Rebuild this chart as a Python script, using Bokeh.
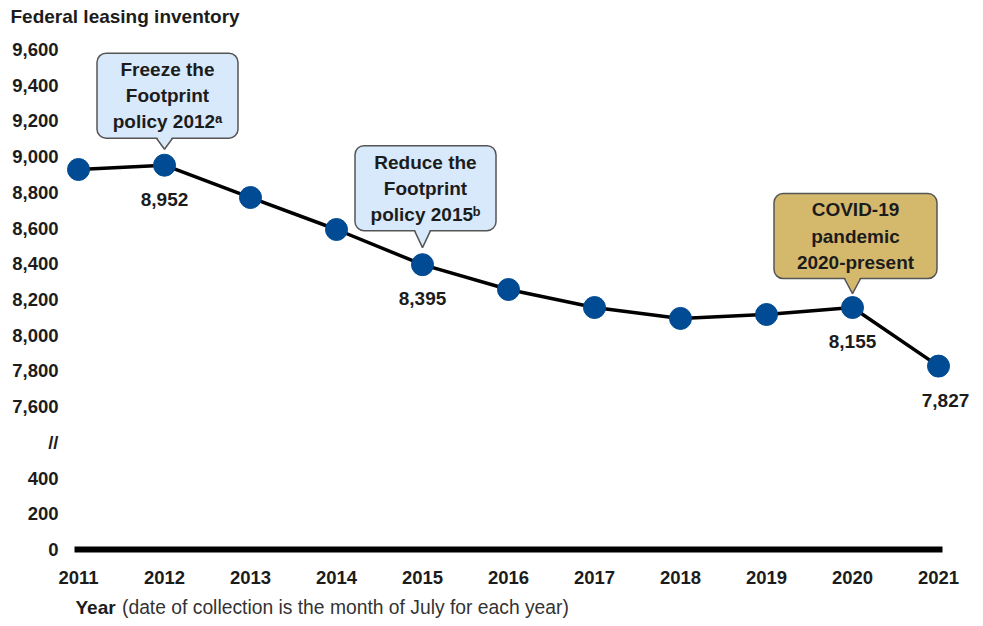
from bokeh.plotting import figure
from bokeh.models import FixedTicker, Range1d
from bokeh.core.properties import value
from bokeh.embed import file_html
from bokeh.resources import INLINE

# ---------------- data ----------------
years = [2011, 2012, 2013, 2014, 2015, 2016, 2017, 2018, 2019, 2020, 2021]
inventory = [8928, 8952, 8771, 8592, 8395, 8256, 8155, 8094, 8116, 8155, 7827]
labeled_years = [2012, 2015, 2020, 2021]
callout_years = [2012, 2015, 2020]
callout_texts = ["Freeze the\nFootprint\npolicy 2012\u1d43",
                 "Reduce the\nFootprint\npolicy 2015\u1d47",
                 "COVID-19\npandemic\n2020-present"]
callout_fills = ["#d7e9fa", "#d7e9fa", "#d4b96c"]
lower_ticks = [0, 200, 400]
upper_ticks = [7600, 7800, 8000, 8200, 8400, 8600, 8800, 9000, 9200, 9400, 9600]
break_label = "//"
title_text = "Federal leasing inventory"
xtitle_bold = "Year"
xtitle_rest = "(date of collection is the month of July for each year)"

# ---------------- broken axis mapping ----------------
STEP = 200
BREAK_POS = lower_ticks[-1] + STEP            # position of "//"
UPPER_BASE = BREAK_POS + STEP                 # where upper_ticks[0] is drawn


def to_plot(v):
    return v if v < upper_ticks[0] else v - upper_ticks[0] + UPPER_BASE


plot_y = [to_plot(v) for v in inventory]
tick_pos = [to_plot(v) for v in lower_ticks] + [BREAK_POS] + [to_plot(v) for v in upper_ticks]
tick_lab = [f"{v:,}" for v in lower_ticks] + [break_label] + [f"{v:,}" for v in upper_ticks]
overrides = {int(p): l for p, l in zip(tick_pos, tick_lab)}

# ---------------- layout (canvas pixels; frame fills the canvas) ----------------
W, H = 983, 626
X0_PX, X1_PX = 78, 938                      # first / last year centre
Y0_PX, YTOP_PX = 549, 49                    # plot 0 / top tick
ppx = (X1_PX - X0_PX) / (years[-1] - years[0])          # px per year
top_pos = tick_pos[-1]
ppy = (Y0_PX - YTOP_PX) / top_pos                       # px per y unit


def X(px):      # canvas px -> data x
    return years[0] + (px - X0_PX) / ppx


def Y(py):      # canvas px -> data y
    return (Y0_PX - py) * 1.0 / ppy


def dx(px):
    return px / ppx


def dy(px):
    return px / ppy


FONT = "Liberation Sans"
TXT = "#1c1c1c"

p = figure(width=W, height=H, min_border=0,
           x_range=Range1d(X(0), X(W)), y_range=Range1d(Y(H), Y(0)),
           output_backend="svg", toolbar_location=None, tools="")
p.outline_line_color = None
p.grid.grid_line_color = None
p.background_fill_color = "white"
p.border_fill_color = "white"

for ax in (p.xaxis[0], p.yaxis[0]):
    ax.axis_line_color = None
    ax.major_tick_line_color = None
    ax.minor_tick_line_color = None
    ax.major_tick_out = 0
    ax.major_tick_in = 0
    ax.major_label_text_font = FONT
    ax.major_label_text_font_style = "bold"
    ax.major_label_text_font_size = "18.5px"
    ax.major_label_text_color = TXT

p.xaxis[0].ticker = FixedTicker(ticks=years)
p.xaxis[0].fixed_location = Y(558)
p.xaxis[0].major_label_standoff = 12
p.yaxis[0].ticker = FixedTicker(ticks=tick_pos)
p.yaxis[0].major_label_overrides = overrides
p.yaxis[0].fixed_location = X(70)
p.yaxis[0].major_label_standoff = 12

# thick baseline
p.segment(x0=[years[0] - dx(4)], y0=[0], x1=[years[-1] + dx(4)], y1=[0],
          line_color="black", line_width=6, line_cap="butt")

# callouts (box geometry in screen px)
BOX_H, PTR_HW = 85, 8
box_w = {2012: 141, 2015: 141, 2020: 163}
box_lift = {2012: 27, 2015: 34, 2020: 29}     # point centre -> box bottom
tip_gap = {2012: 16, 2015: 17, 2020: 14}      # point centre -> pointer tip
for yr, txt, fill in zip(callout_years, callout_texts, callout_fills):
    i = years.index(yr)
    cx, cy = yr, plot_y[i]
    tip = cy + dy(tip_gap[yr])
    bottom = cy + dy(box_lift[yr])
    top = bottom + dy(BOX_H)
    bx = cx + dx(3)
    w = box_w[yr]
    p.quad(left=[bx - dx(w / 2)], right=[bx + dx(w / 2)], bottom=[bottom], top=[top],
           fill_color=fill, line_color="#555555", line_width=1.5, border_radius=9)
    p.patch(x=[cx - dx(PTR_HW), cx, cx + dx(PTR_HW)],
            y=[bottom + dy(2), tip, bottom + dy(2)],
            fill_color=fill, line_color=None)
    p.line(x=[cx - dx(PTR_HW), cx, cx + dx(PTR_HW)], y=[bottom, tip, bottom],
           line_color="#555555", line_width=1.5)
    p.text(x=[bx], y=[(bottom + top) / 2], text=[txt], text_font=value(FONT),
           text_font_style="bold", text_font_size="19px", text_color=TXT,
           text_align="center", text_baseline="middle", text_line_height=1.24)

# line + markers
p.line(years, plot_y, line_color="black", line_width=3.5)
p.scatter(years, plot_y, size=22, fill_color="#004b93", line_color="#004b93")

# value labels (last one sits a little to the right, as in the source)
for yr in labeled_years:
    i = years.index(yr)
    shift = dx(7) if yr == years[-1] else 0
    p.text(x=[yr + shift], y=[plot_y[i] - dy(34)], text=[f"{inventory[i]:,}"],
           text_font=value(FONT), text_font_style="bold", text_font_size="19px",
           text_color=TXT, text_align="center", text_baseline="middle")

# chart title and x-axis title
p.text(x=[X(10)], y=[Y(16)], text=[title_text], text_font=value(FONT),
       text_font_style="bold", text_font_size="19px", text_color=TXT,
       text_align="left", text_baseline="middle")
p.text(x=[X(75)], y=[Y(607)], text=[xtitle_bold], text_font=value(FONT),
       text_font_style="bold", text_font_size="19px", text_color=TXT,
       text_align="left", text_baseline="middle")
p.text(x=[X(121.5)], y=[Y(607)], text=[xtitle_rest], text_font=value(FONT),
       text_font_size="19.3px", text_color="#333333",
       text_align="left", text_baseline="middle")

open("out.html", "w").write(file_html(p, INLINE))
